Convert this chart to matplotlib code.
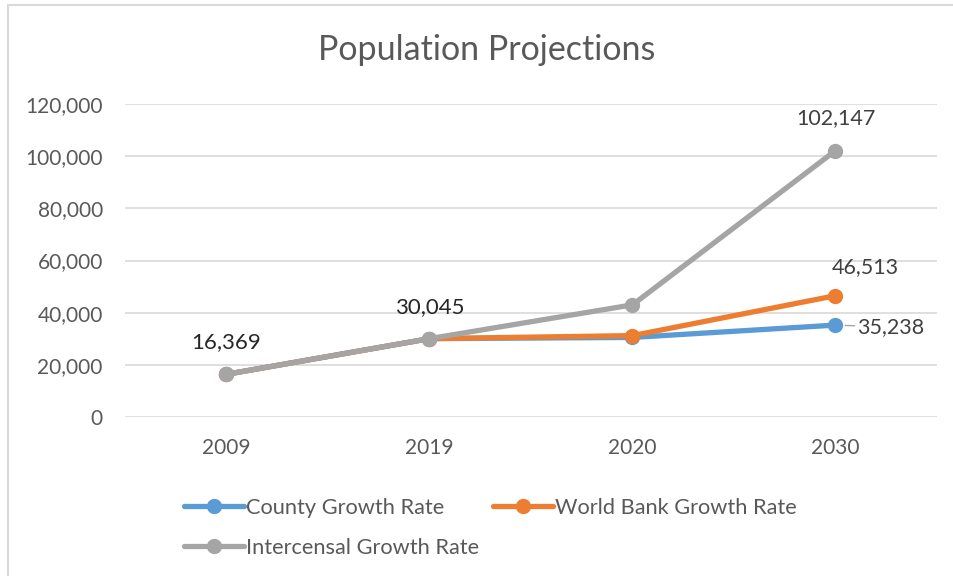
import matplotlib
matplotlib.use("Agg")
import matplotlib.pyplot as plt
from matplotlib.patches import Rectangle
from matplotlib.ticker import FuncFormatter

years = ["2009", "2019", "2020", "2030"]
county = [16369, 30045, 30500, 35238]
world_bank = [16369, 30045, 31200, 46513]
intercensal = [16369, 30045, 43000, 102147]
yticks = [0, 20000, 40000, 60000, 80000, 100000, 120000]

plt.rcParams['font.family'] = ['Lato', 'DejaVu Sans']

fig = plt.figure(figsize=(9.54, 5.76), dpi=100)
fig.patch.set_facecolor('white')

# chart frame
fig.patches.append(Rectangle((8 / 954, -0.05), 1.1, 1 - 5 / 576 + 0.05,
                             transform=fig.transFigure, fill=False,
                             edgecolor='#D9D9D9', linewidth=1.5))

ax = fig.add_axes([125 / 954, 1 - 417 / 576, (937 - 125) / 954, (417 - 104) / 576])
x = list(range(len(years)))

series = [
    ("County Growth Rate", county, "#5B9BD5"),
    ("World Bank Growth Rate", world_bank, "#ED7D31"),
    ("Intercensal Growth Rate", intercensal, "#A5A5A5"),
]
handles = []
for name, vals, col in series:
    h, = ax.plot(x, vals, color=col, lw=3.8, marker='o', markersize=10,
                 solid_capstyle='round', label=name, zorder=3)
    handles.append(h)

ax.set_xlim(-0.5, 3.5)
ax.set_ylim(0, 120000)
ax.set_yticks(yticks)
ax.yaxis.set_major_formatter(FuncFormatter(lambda v, p: f"{int(v):,}"))
ax.set_xticks(x)
ax.set_xticklabels(years)
ax.grid(axis='y', color='#D9D9D9', lw=1.2)
ax.set_axisbelow(True)
for s in ax.spines.values():
    s.set_visible(False)
ax.tick_params(axis='both', length=0, labelsize=15, colors='#595959')
ax.tick_params(axis='y', pad=16)
ax.tick_params(axis='x', pad=15)

lab_kw = dict(fontsize=15.5, color='#404040', ha='center', va='center')
shared_kw = dict(fontsize=16, color='#262626', ha='center', va='center')
ax.annotate(f"{county[0]:,}", (0, county[0]), xytext=(0, 32), textcoords='offset pixels', **shared_kw)
ax.annotate(f"{county[1]:,}", (1, county[1]), xytext=(0, 32), textcoords='offset pixels', **shared_kw)
ax.annotate(f"{intercensal[3]:,}", (3, intercensal[3]), xytext=(0, 32), textcoords='offset pixels', **lab_kw)
ax.annotate(f"{world_bank[3]:,}", (3, world_bank[3]), xytext=(30, 29), textcoords='offset pixels', **lab_kw)
ax.annotate(f"{county[3]:,}", (3, county[3]), xytext=(22, -2), textcoords='offset pixels',
            fontsize=15.5, color='#404040', ha='left', va='center',
            arrowprops=dict(arrowstyle='-', color='#A5A5A5', lw=1, shrinkA=0, shrinkB=7))

fig.text(487 / 954, 1 - 50 / 576, "Population Projections", ha='center', va='center',
         fontsize=24.5, color='#595959')

order = [handles[0], handles[2], handles[1]]
leg = fig.legend(order, [h.get_label() for h in order], ncol=2, frameon=False,
                 loc='upper left', bbox_to_anchor=(184 / 954, 1 - 498 / 576),
                 fontsize=15.7, handlelength=2.75, handletextpad=0.08,
                 columnspacing=0.65, labelspacing=0.9, borderaxespad=0, borderpad=0)
for t in leg.get_texts():
    t.set_color('#595959')

fig.savefig("out.png", dpi=100, facecolor='white')
